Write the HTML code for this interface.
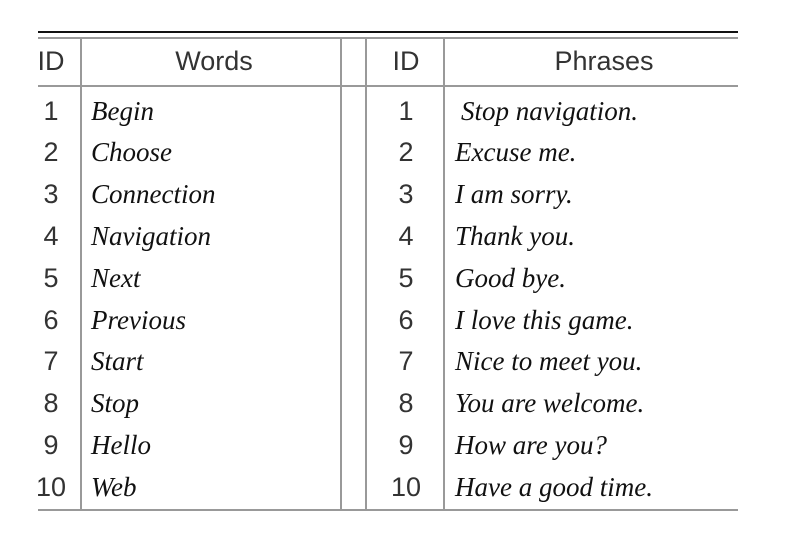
<!DOCTYPE html>
<html><head><meta charset="utf-8"><style>
body{margin:0;width:797px;height:545px;background:#fff;position:relative;overflow:hidden}
.l{position:absolute;background:#999}
.t{position:absolute;white-space:nowrap;line-height:1}
.s{font-family:"Liberation Sans",sans-serif;font-size:27px;color:#333;transform:translateX(-50%)}
.i{font-family:"Liberation Serif",serif;font-style:italic;font-size:27px;color:#111}
</style></head><body>
<div class="l" style="left:38px;top:31px;width:700px;height:2px;background:#111"></div>
<div class="l" style="left:38px;top:37px;width:700px;height:2px"></div>
<div class="l" style="left:38px;top:85px;width:700px;height:2px"></div>
<div class="l" style="left:38px;top:509px;width:700px;height:2px"></div>
<div class="l" style="left:80px;top:38px;width:2px;height:472px"></div>
<div class="l" style="left:340px;top:38px;width:2px;height:472px"></div>
<div class="l" style="left:365px;top:38px;width:2px;height:472px"></div>
<div class="l" style="left:443px;top:38px;width:2px;height:472px"></div>
<div id="c"></div>
<script>
var c=document.getElementById('c'),h='';
function t(cls,x,base,txt){var top=base-(cls=='s'?23.5:23.5);h+='<div class="t '+cls+'" style="left:'+x+'px;top:'+top+'px">'+txt+'</div>';}
t('s',51,71,'ID');t('s',214,71,'Words');t('s',406,71,'ID');t('s',604,71,'Phrases');
var w=['Begin','Choose','Connection','Navigation','Next','Previous','Start','Stop','Hello','Web'];
var p=['Stop navigation.','Excuse me.','I am sorry.','Thank you.','Good bye.','I love this game.','Nice to meet you.','You are welcome.','How are you?','Have a good time.'];
for(var k=0;k<10;k++){var b=121+41.8*k;t('s',51,b,k+1);t('i',91,b,w[k]);t('s',406,b,k+1);t('i',k==0?461:455,b,p[k]);}
c.innerHTML=h;
</script>
</body></html>
